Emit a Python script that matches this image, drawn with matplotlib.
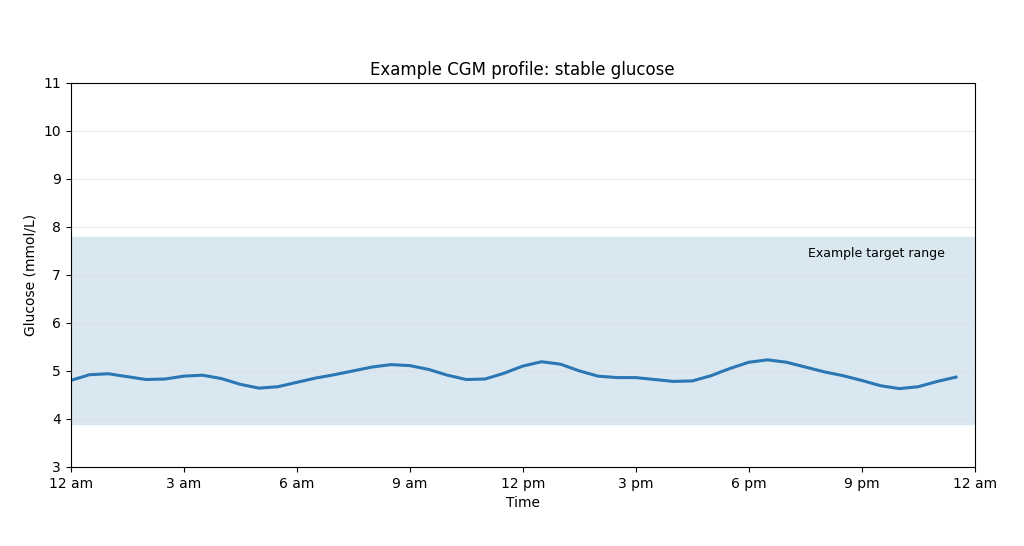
import numpy as np
import matplotlib.pyplot as plt

# Half-hourly glucose readings (mmol/L)
hours = np.arange(0, 24, 0.5)
glucose = [4.80, 4.92, 4.94, 4.88, 4.82, 4.83, 4.89, 4.91, 4.84, 4.72, 4.64, 4.67,
           4.76, 4.85, 4.92, 5.00, 5.08, 5.13, 5.11, 5.03, 4.91, 4.82, 4.83, 4.95,
           5.10, 5.19, 5.14, 5.00, 4.89, 4.86, 4.86, 4.82, 4.78, 4.79, 4.90, 5.05,
           5.18, 5.23, 5.18, 5.08, 4.98, 4.90, 4.80, 4.69, 4.63, 4.67, 4.78, 4.87]
target_low, target_high = 3.9, 7.8
tick_hours = [0, 3, 6, 9, 12, 15, 18, 21, 24]
tick_labels = ['12 am', '3 am', '6 am', '9 am', '12 pm', '3 pm', '6 pm', '9 pm', '12 am']

fig, ax = plt.subplots(figsize=(10.24, 5.46), dpi=100)
ax.axhspan(target_low, target_high, color='#d9e7f1', zorder=0)
ax.plot(hours, glucose, color='#2a77b4', linewidth=2.2)
ax.text(0.967, 0.557, 'Example target range', transform=ax.transAxes,
        ha='right', va='center', fontsize=9)

ax.set_xlim(0, 24)
ax.set_ylim(3, 11)
ax.set_xticks(tick_hours)
ax.set_xticklabels(tick_labels)
ax.set_yticks(range(3, 12))
ax.grid(axis='y', color='#dddddd', alpha=0.6, linewidth=0.8)
ax.set_title('Example CGM profile: stable glucose')
ax.set_xlabel('Time')
ax.set_ylabel('Glucose (mmol/L)')

fig.subplots_adjust(left=0.069, right=0.952, top=0.848, bottom=0.145)
fig.savefig('out.png', dpi=100)
